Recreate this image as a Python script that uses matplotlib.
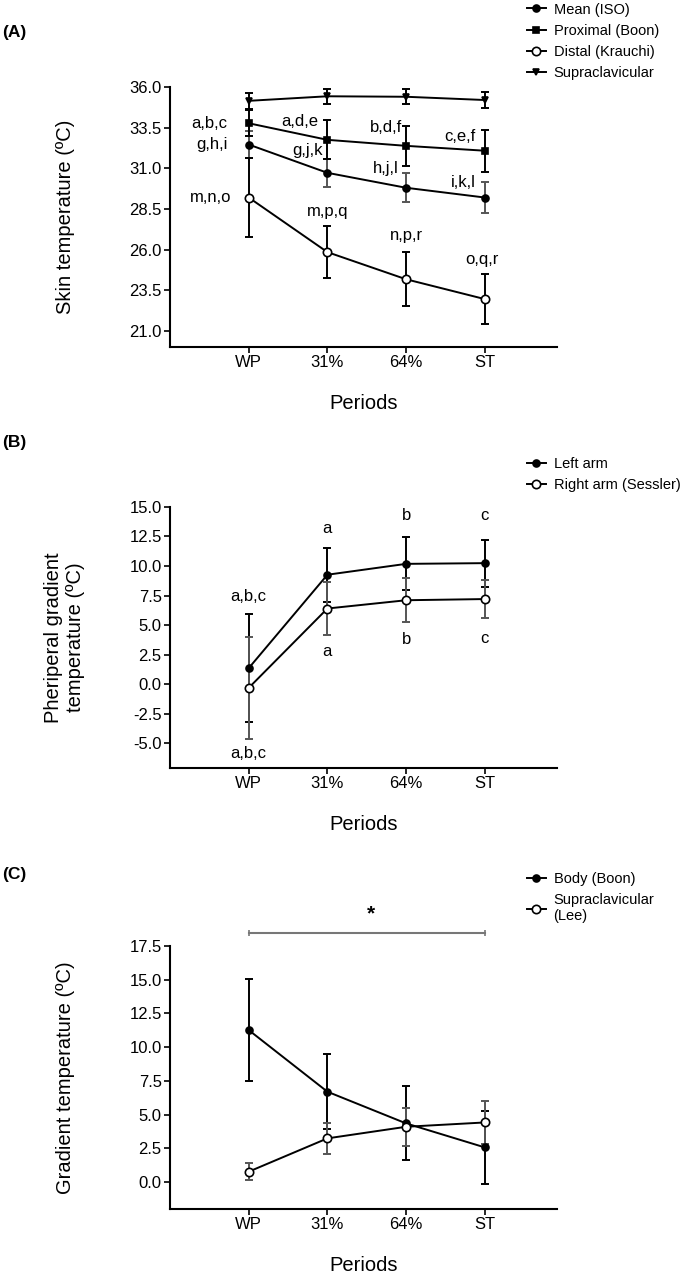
import matplotlib.pyplot as plt
import numpy as np

plt.rcParams['font.family'] = ['Liberation Sans', 'DejaVu Sans']

periods = ['WP', '31%', '64%', 'ST']

# (A) skin temperature, mean and SD
supra_a = [35.15, 35.43, 35.40, 35.20]
supra_a_sd = [0.50, 0.45, 0.45, 0.50]
prox_a = [33.77, 32.75, 32.38, 32.08]
prox_a_sd = [0.80, 1.20, 1.22, 1.30]
mean_a = [32.46, 30.72, 29.80, 29.20]
mean_a_sd = [0.82, 0.85, 0.90, 0.95]
dist_a = [29.20, 25.84, 24.17, 22.95]
dist_a_sd = [2.45, 1.60, 1.65, 1.55]

# (B) peripheral gradient
left_b = [1.35, 9.26, 10.18, 10.24]
left_b_sd = [4.60, 2.30, 2.25, 2.00]
right_b = [-0.32, 6.40, 7.10, 7.20]
right_b_sd = [4.35, 2.25, 1.85, 1.60]

# (C) gradient temperature
body_c = [11.27, 6.70, 4.35, 2.57]
body_c_sd = [3.80, 2.80, 2.75, 2.70]
supra_c = [0.77, 3.24, 4.10, 4.42]
supra_c_sd = [0.62, 1.15, 1.40, 1.60]

# significance letters: (text, x, y, ha)
letters_a = [('a,b,c', 0.73, 33.77, 'right'), ('g,h,i', 0.73, 32.46, 'right'),
             ('m,n,o', 0.78, 29.20, 'right'),
             ('a,d,e', 1.88, 33.85, 'right'), ('g,j,k', 1.94, 32.10, 'right'),
             ('m,p,q', 2.00, 28.35, 'center'),
             ('b,d,f', 2.95, 33.50, 'right'), ('h,j,l', 2.90, 31.00, 'right'),
             ('n,p,r', 3.00, 26.85, 'center'),
             ('c,e,f', 3.88, 32.93, 'right'), ('i,k,l', 3.88, 30.10, 'right'),
             ('o,q,r', 3.96, 25.40, 'center')]
letters_b = [('a,b,c', 1, 7.4), ('a,b,c', 1, -5.85), ('a', 2, 13.2), ('a', 2, 2.8),
             ('b', 3, 14.3), ('b', 3, 3.8), ('c', 4, 14.3), ('c', 4, 3.85)]

x = np.arange(1, 5)
fig = plt.figure(figsize=(6.92, 12.74), dpi=100)


def series(ax, y, sd, marker, mfc, ms, label, ecolor='black'):
    ax.errorbar(x, y, yerr=sd, fmt='none', ecolor=ecolor, elinewidth=1.4,
                capsize=3, capthick=1.4, clip_on=False, zorder=2)
    ax.plot(x, y, '-', color='black', lw=1.4, marker=marker, mfc=mfc,
            mec='black', mew=1.2, ms=ms, label=label, clip_on=False, zorder=3)


def style(ax, ylim, yticks, ylabel, ylab_x):
    ax.set_xlim(0, 4.92)
    ax.set_ylim(*ylim)
    ax.set_xticks(x)
    ax.set_xticklabels(periods)
    ax.set_yticks(yticks)
    ax.set_yticklabels(['%.1f' % v for v in yticks])
    for s in ['top', 'right']:
        ax.spines[s].set_visible(False)
    for s in ['left', 'bottom']:
        ax.spines[s].set_linewidth(1.5)
    ax.tick_params(labelsize=12, width=1.2, length=4, pad=2)
    ax.set_ylabel(ylabel, fontsize=14.5)
    ax.yaxis.set_label_coords(ylab_x, 0.5)
    ax.set_xlabel('Periods', fontsize=14.5)
    ax.xaxis.set_label_coords(0.5, -0.18)


def legend(ax, top):
    ax.legend(loc='upper left', bbox_to_anchor=(0.762, top),
              bbox_transform=fig.transFigure, frameon=False, fontsize=10.5,
              handlelength=1.25, handletextpad=0.55, labelspacing=0.5,
              borderpad=0, borderaxespad=0)


# panel A
axA = fig.add_axes([0.2457, 0.7276, 0.5595, 0.2041])
series(axA, mean_a, mean_a_sd, 'o', 'black', 5, 'Mean (ISO)', '#555555')
series(axA, prox_a, prox_a_sd, 's', 'black', 5, 'Proximal (Boon)')
series(axA, dist_a, dist_a_sd, 'o', 'white', 6, 'Distal (Krauchi)')
series(axA, supra_a, supra_a_sd, 'v', 'black', 4, 'Supraclavicular')
for t, lx, ly, ha in letters_a:
    axA.text(lx, ly, t, ha=ha, va='center', fontsize=12)
style(axA, (20, 36), np.arange(21, 36.1, 2.5), 'Skin temperature (ºC)', -0.245)
legend(axA, 0.998)
fig.text(0.003, 1 - 33 / 1274, '(A)', fontsize=12.5, fontweight='bold', va='center')

# panel B
axB = fig.add_axes([0.2457, 0.3972, 0.5595, 0.2049])
series(axB, left_b, left_b_sd, 'o', 'black', 5, 'Left arm')
series(axB, right_b, right_b_sd, 'o', 'white', 6, 'Right arm (Sessler)', '#555555')
for t, lx, ly in letters_b:
    axB.text(lx, ly, t, ha='center', va='center', fontsize=12)
style(axB, (-7.1, 15), np.arange(-5, 15.1, 2.5),
      'Pheriperal gradient\ntemperature (ºC)', -0.22)
legend(axB, 1 - 457 / 1274)
fig.text(0.003, 1 - 443 / 1274, '(B)', fontsize=12.5, fontweight='bold', va='center')

# panel C
axC = fig.add_axes([0.2457, 0.0510, 0.5595, 0.2064])
series(axC, body_c, body_c_sd, 'o', 'black', 5, 'Body (Boon)')
series(axC, supra_c, supra_c_sd, 'o', 'white', 6, 'Supraclavicular\n(Lee)', '#555555')
axC.plot([1, 4], [18.46, 18.46], color='#777777', lw=1.5, marker='|', ms=5,
         mew=1.2, clip_on=False)
axC.text(2.55, 19.9, '*', ha='center', va='center', fontsize=15, fontweight='bold')
style(axC, (-2, 17.5), np.arange(0, 17.6, 2.5), 'Gradient temperature (ºC)', -0.245)
legend(axC, 1 - 872 / 1274)
fig.text(0.003, 1 - 875 / 1274, '(C)', fontsize=12.5, fontweight='bold', va='center')

fig.savefig('out.png', dpi=100)
